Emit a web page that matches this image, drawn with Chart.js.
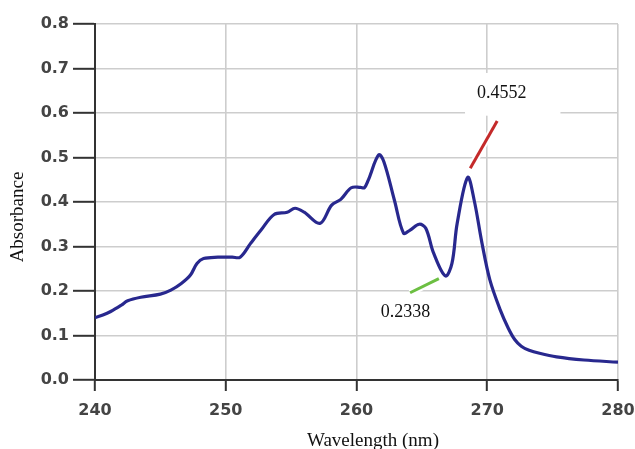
<!DOCTYPE html>
<html>
<head>
<meta charset="utf-8">
<script src="https://cdn.jsdelivr.net/npm/chart.js@4/dist/chart.umd.min.js"></script>
<style>
  html, body { margin: 0; padding: 0; background: #ffffff; }
  #wrap { width: 635px; height: 449px; }
</style>
</head>
<body>
<div id="wrap"><canvas id="spectrum" width="635" height="449"></canvas></div>
<script>
// UV absorption spectrum, 240–280 nm
const wavelengths = [
  240.0, 240.6, 241.2, 242.0, 242.5, 243.5, 245.0, 245.8, 246.6, 247.3,
  247.8, 248.3, 249.4, 250.5, 251.1, 251.9, 252.7, 253.7, 254.7, 255.3,
  256.0, 257.2, 258.1, 258.8, 259.6, 260.3, 260.6, 260.9, 261.7, 262.1,
  262.9, 263.6, 264.1, 264.8, 265.3, 265.9, 266.8, 267.3, 267.7, 268.5,
  269.0, 269.6, 270.2, 271.0, 271.6, 272.1, 272.6, 273.2, 274.0, 275.3,
  277.4, 280.0
];
const absorbance = [
  0.140, 0.146, 0.154, 0.168, 0.178, 0.186, 0.193, 0.202, 0.217, 0.236,
  0.262, 0.273, 0.276, 0.276, 0.276, 0.307, 0.337, 0.372, 0.377, 0.386,
  0.377, 0.352, 0.393, 0.406, 0.432, 0.433, 0.432, 0.449, 0.506, 0.490,
  0.404, 0.330, 0.337, 0.350, 0.341, 0.285, 0.2338, 0.262, 0.352, 0.4552,
  0.404, 0.307, 0.225, 0.157, 0.117, 0.091, 0.076, 0.067, 0.060, 0.052,
  0.045, 0.040
];
const xTickValues = [240, 250, 260, 270, 280];
const yTickValues = [0.0, 0.1, 0.2, 0.3, 0.4, 0.5, 0.6, 0.7, 0.8];

// Marked points on the curve: the local minimum and the 268 nm peak
const peakIndex = absorbance.indexOf(0.4552);
const minIndex = absorbance.indexOf(0.2338);

// Callouts, in data units (wavelength, absorbance)
const callouts = [
  {
    index: peakIndex, color: '#c42a2a',
    lineFrom: [268.7, 0.476], lineTo: [270.76, 0.582],
    text: [271.1, 0.645],
    box: [268.3, 0.690, 275.6, 0.594]
  },
  {
    index: minIndex, color: '#6cbf42',
    lineFrom: [264.1, 0.196], lineTo: [266.3, 0.228],
    text: [263.75, 0.152],
    box: null
  }
];

const calloutPlugin = {
  id: 'callouts',
  beforeDatasetsDraw(chart) {
    const { ctx, scales: { x, y } } = chart;
    ctx.save();
    callouts.forEach(c => {
      if (c.box) {
        const x0 = x.getPixelForValue(c.box[0]), y0 = y.getPixelForValue(c.box[1]);
        const x1 = x.getPixelForValue(c.box[2]), y1 = y.getPixelForValue(c.box[3]);
        ctx.fillStyle = '#ffffff';
        ctx.fillRect(x0, y0, x1 - x0, y1 - y0);
      }
      const ax = x.getPixelForValue(c.lineFrom[0]), ay = y.getPixelForValue(c.lineFrom[1]);
      const bx = x.getPixelForValue(c.lineTo[0]), by = y.getPixelForValue(c.lineTo[1]);
      ctx.lineCap = 'butt';
      ctx.strokeStyle = '#ffffff';
      ctx.lineWidth = 7;
      ctx.beginPath(); ctx.moveTo(ax, ay); ctx.lineTo(bx, by); ctx.stroke();
      ctx.strokeStyle = c.color;
      ctx.lineWidth = 3;
      ctx.beginPath(); ctx.moveTo(ax, ay); ctx.lineTo(bx, by); ctx.stroke();

      ctx.fillStyle = '#111111';
      ctx.font = '18px "Liberation Serif", "Times New Roman", serif';
      ctx.textAlign = 'center';
      ctx.textBaseline = 'middle';
      ctx.fillText(absorbance[c.index].toFixed(4),
        x.getPixelForValue(c.text[0]), y.getPixelForValue(c.text[1]));
    });
    ctx.restore();
  }
};

const axisTitlePlugin = {
  id: 'axisTitles',
  afterDraw(chart) {
    const { ctx } = chart;
    ctx.save();
    ctx.fillStyle = '#111111';
    ctx.textAlign = 'center';
    ctx.textBaseline = 'middle';
    ctx.font = '19px "Liberation Serif", "Times New Roman", serif';
    ctx.fillText('Wavelength (nm)', 373, 441);
    ctx.translate(18, 217);
    ctx.rotate(-Math.PI / 2);
    ctx.font = '19px "Liberation Serif", "Times New Roman", serif';
    ctx.fillText('Absorbance', 0, 0);
    ctx.restore();
  }
};

new Chart(document.getElementById('spectrum'), {
  type: 'line',
  data: {
    datasets: [{
      data: wavelengths.map((w, i) => ({ x: w, y: absorbance[i] })),
      borderColor: '#28288e',
      borderWidth: 3.2,
      pointRadius: 0,
      fill: false,
      tension: 0.35
    }]
  },
  options: {
    responsive: false,
    animation: false,
    devicePixelRatio: 1,
    layout: { padding: { top: 24, right: 17, bottom: 0, left: 0 } },
    plugins: { legend: { display: false }, tooltip: { enabled: false } },
    scales: {
      x: {
        type: 'linear',
        min: 240, max: 280,
        afterBuildTicks: s => { s.ticks = xTickValues.map(v => ({ value: v })); },
        afterFit: s => { s.height = 69; s.paddingLeft = 0; s.paddingRight = 0; },
        grid: { color: '#cdcdcd', lineWidth: 1.6, tickColor: '#333333', tickLength: 11, tickWidth: 2 },
        border: { display: true, color: '#333333', width: 2 },
        ticks: {
          color: '#444444', padding: 10, maxRotation: 0, autoSkip: false,
          font: { family: '"DejaVu Sans", sans-serif', size: 16, weight: 'bold' },
          callback: v => String(v)
        }
      },
      y: {
        min: 0, max: 0.8,
        afterBuildTicks: s => { s.ticks = yTickValues.map(v => ({ value: v })); },
        afterFit: s => { s.width = 95; s.paddingTop = 0; s.paddingBottom = 0; },
        grid: { color: '#cdcdcd', lineWidth: 1.6, tickColor: '#333333', tickLength: 22, tickWidth: 2 },
        border: { display: true, color: '#333333', width: 2 },
        ticks: {
          color: '#444444', padding: 4,
          font: { family: '"DejaVu Sans", sans-serif', size: 16, weight: 'bold' },
          callback: v => v.toFixed(1)
        }
      }
    }
  },
  plugins: [calloutPlugin, axisTitlePlugin]
});
</script>
</body>
</html>
